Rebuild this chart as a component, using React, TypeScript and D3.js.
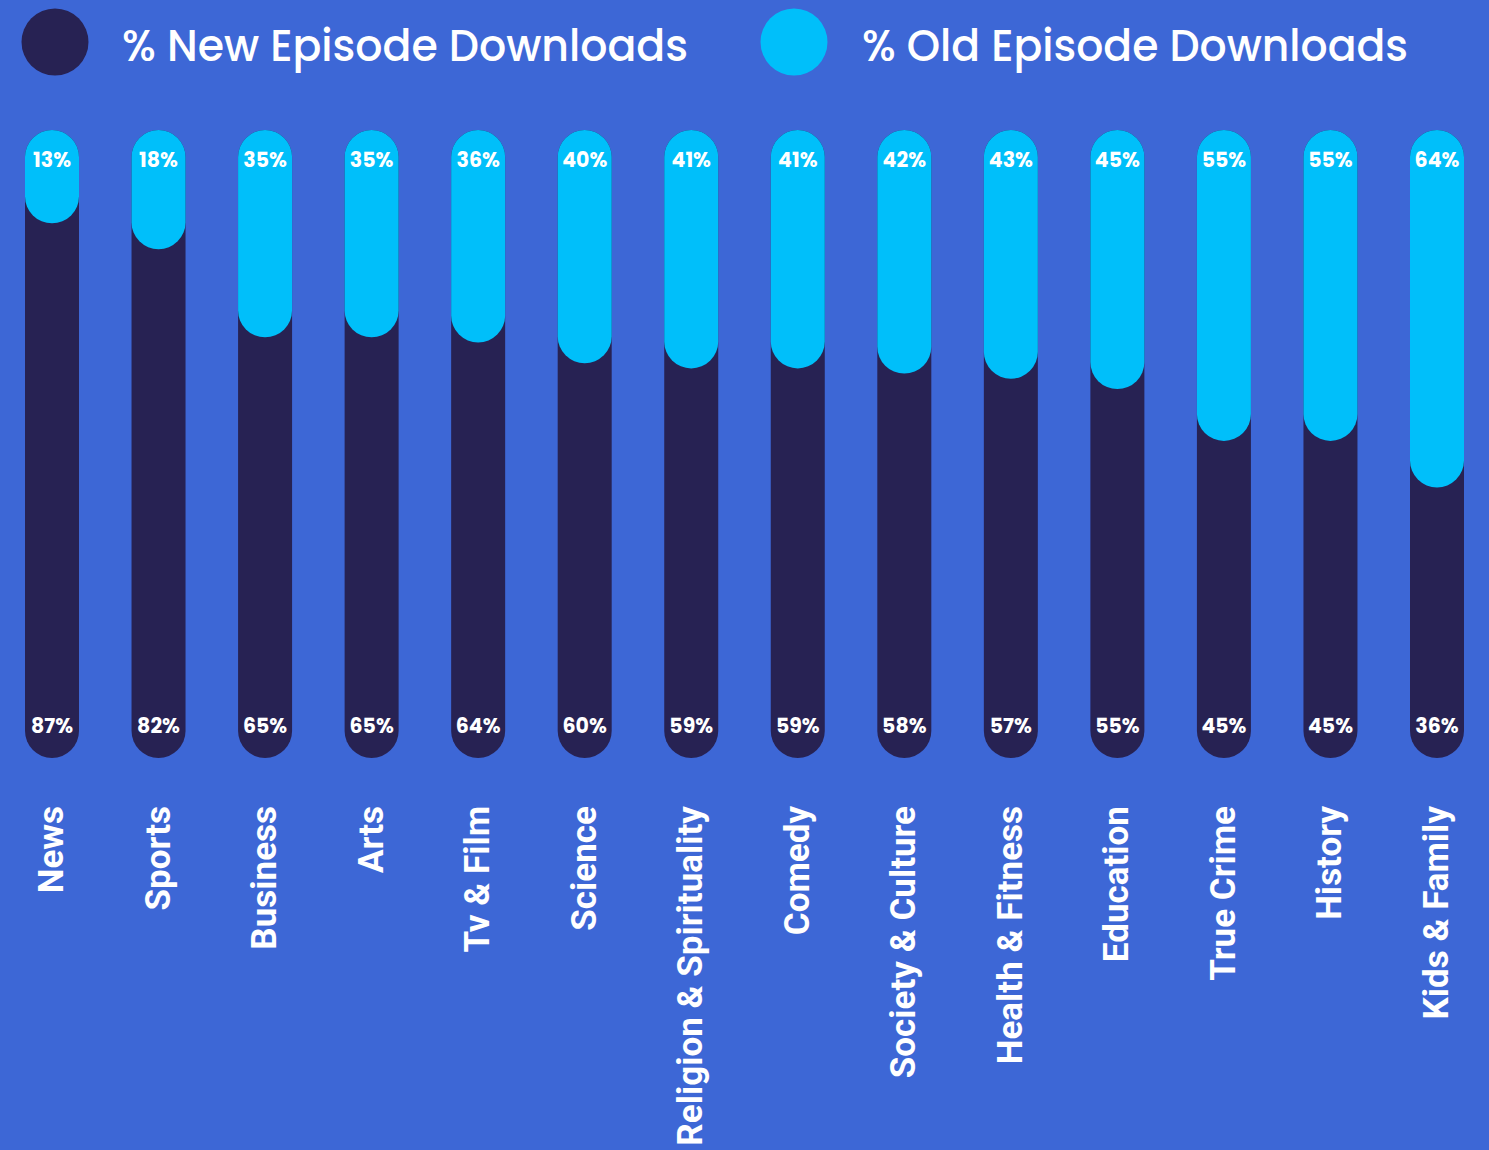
import React from "react";
import * as d3 from "d3";

const categories = [
  "News", "Sports", "Business", "Arts", "Tv & Film", "Science",
  "Religion & Spirituality", "Comedy", "Society & Culture", "Health & Fitness",
  "Education", "True Crime", "History", "Kids & Family",
];
const newEpisodePct = [87, 82, 65, 65, 64, 60, 59, 59, 58, 57, 55, 45, 45, 36];
const oldEpisodePct = [13, 18, 35, 35, 36, 40, 41, 41, 42, 43, 45, 55, 55, 64];
const legendLabels = ["% New Episode Downloads", "% Old Episode Downloads"];

const W = 1489;
const H = 1150;
const BG = "#3D67D6";
const NAVY = "#272253";
const CYAN = "#00BFFA";

const barTop = 130;
const barBottom = 758;
const barW = 54;
const r = barW / 2;

export default function App() {
  const x = d3.scalePoint<string>().domain(categories).range([52, 1437]).padding(0);
  // the old-episode segment hangs from the bar top; its rounded foot sits at y(pct)
  const y = d3.scaleLinear().domain([0, 100]).range([barTop + 26, barTop + 544]);

  const sans = "Poppins, Inter, 'Open Sans', sans-serif";
  const labelFont = "Roboto, 'Liberation Sans', Arial, sans-serif";

  return (
    <div style={{ position: "fixed", left: 0, top: 0, width: W, height: H }}>
      <svg width={W} height={H} style={{ display: "block" }}>
        <rect x={0} y={0} width={W} height={H} fill={BG} />

        {/* legend */}
        <circle cx={55} cy={42} r={33.5} fill={NAVY} />
        <text x={122} y={61} fill="#fff" fontFamily={sans} fontSize={45} fontWeight={500}
          textLength={566} lengthAdjust="spacingAndGlyphs">{legendLabels[0]}</text>
        <circle cx={794} cy={42} r={33.5} fill={CYAN} />
        <text x={862} y={61} fill="#fff" fontFamily={sans} fontSize={45} fontWeight={500}
          textLength={546} lengthAdjust="spacingAndGlyphs">{legendLabels[1]}</text>

        {categories.map((c, i) => {
          const cx = x(c)!;
          const bottomOld = y(oldEpisodePct[i]);
          return (
            <g key={c}>
              <rect x={cx - r} y={barTop} width={barW} height={barBottom - barTop} rx={r} fill={NAVY} />
              <rect x={cx - r} y={barTop} width={barW} height={bottomOld - barTop} rx={r} fill={CYAN} />
              <text x={cx} y={167} textAnchor="middle" fill="#fff" fontFamily={sans}
                fontSize={20.5} fontWeight={700}>{oldEpisodePct[i]}%</text>
              <text x={cx} y={733} textAnchor="middle" fill="#fff" fontFamily={sans}
                fontSize={20.5} fontWeight={700}>{newEpisodePct[i]}%</text>
              <text transform={`translate(${cx + 11},806) rotate(-90)`} textAnchor="end"
                fill="#fff" fontFamily={labelFont} fontSize={35} fontWeight={700}>{c}</text>
            </g>
          );
        })}
      </svg>
    </div>
  );
}
